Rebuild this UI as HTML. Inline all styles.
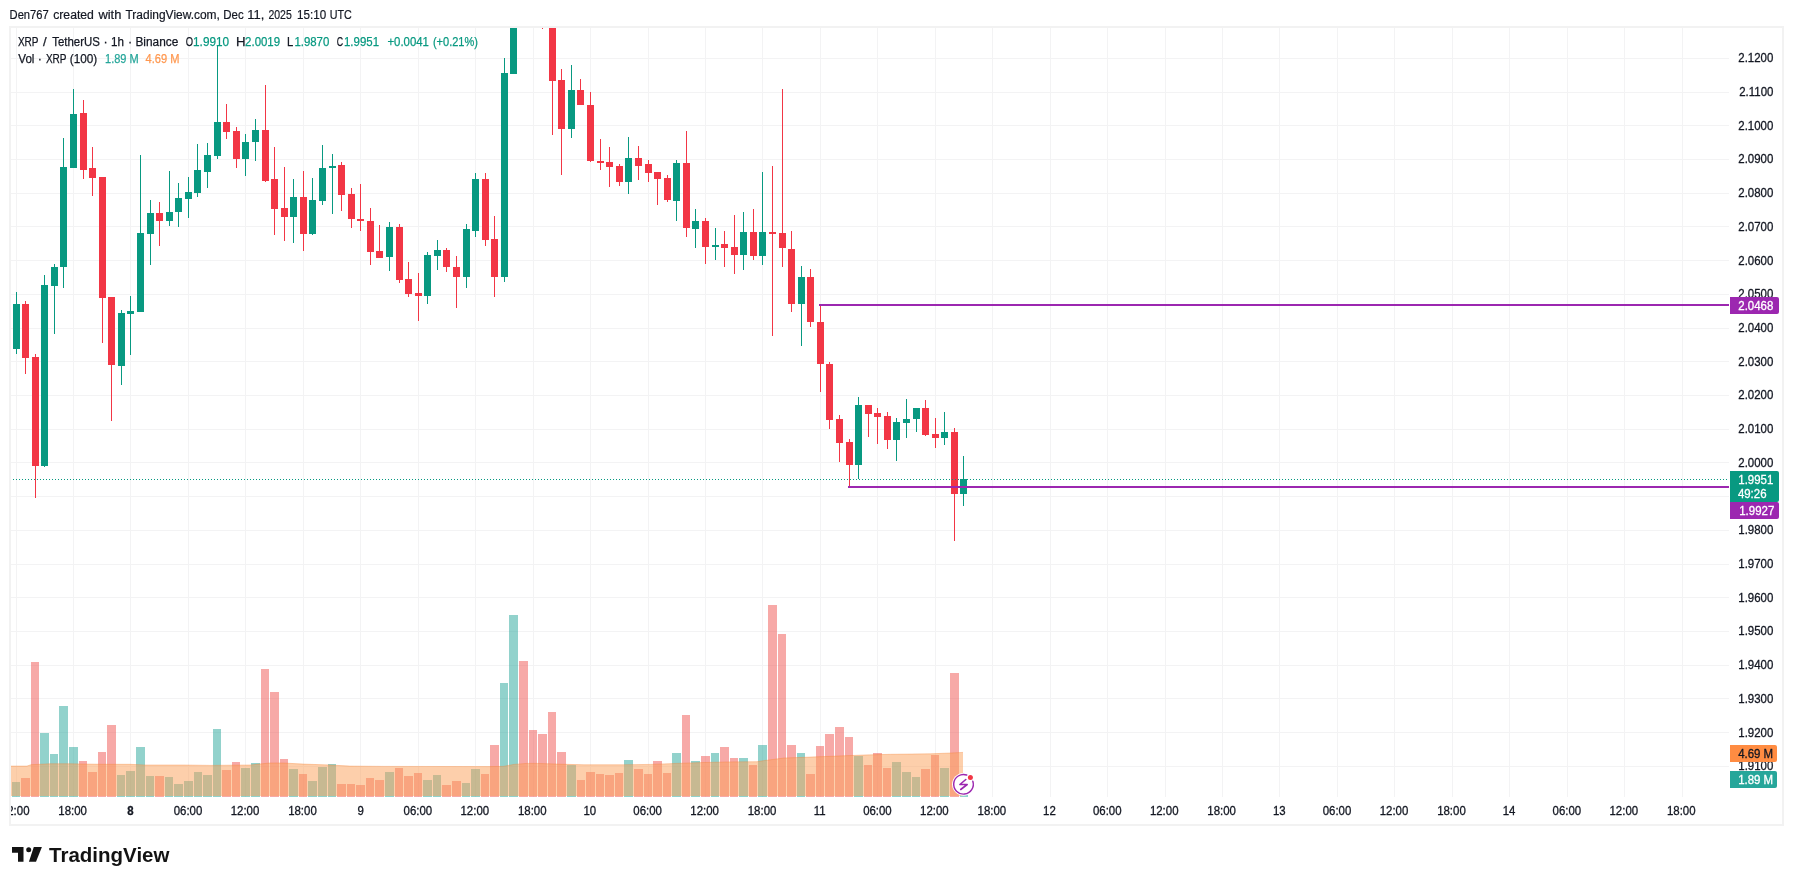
<!DOCTYPE html>
<html><head><meta charset="utf-8"><title>XRP / TetherUS chart</title>
<style>html,body{margin:0;padding:0;background:#fff;width:1793px;height:885px;overflow:hidden}svg{display:block;will-change:transform}</style>
</head><body>
<svg width="1793" height="885" viewBox="0 0 1793 885" shape-rendering="crispEdges"><defs><clipPath id="pane"><rect x="11" y="28" width="1718" height="769"/></clipPath><clipPath id="taxis"><rect x="11" y="797" width="1771" height="27"/></clipPath></defs><rect x="9" y="26" width="1775" height="800" fill="#f2f2f2"/><rect x="11" y="28" width="1771" height="796" fill="#ffffff"/><g fill="#f3f3f4"><rect x="16" y="28" width="1" height="769"/><rect x="73" y="28" width="1" height="769"/><rect x="130" y="28" width="1" height="769"/><rect x="188" y="28" width="1" height="769"/><rect x="245" y="28" width="1" height="769"/><rect x="303" y="28" width="1" height="769"/><rect x="360" y="28" width="1" height="769"/><rect x="418" y="28" width="1" height="769"/><rect x="475" y="28" width="1" height="769"/><rect x="533" y="28" width="1" height="769"/><rect x="590" y="28" width="1" height="769"/><rect x="648" y="28" width="1" height="769"/><rect x="705" y="28" width="1" height="769"/><rect x="762" y="28" width="1" height="769"/><rect x="820" y="28" width="1" height="769"/><rect x="877" y="28" width="1" height="769"/><rect x="935" y="28" width="1" height="769"/><rect x="992" y="28" width="1" height="769"/><rect x="1050" y="28" width="1" height="769"/><rect x="1107" y="28" width="1" height="769"/><rect x="1165" y="28" width="1" height="769"/><rect x="1222" y="28" width="1" height="769"/><rect x="1279" y="28" width="1" height="769"/><rect x="1337" y="28" width="1" height="769"/><rect x="1394" y="28" width="1" height="769"/><rect x="1452" y="28" width="1" height="769"/><rect x="1509" y="28" width="1" height="769"/><rect x="1567" y="28" width="1" height="769"/><rect x="1624" y="28" width="1" height="769"/><rect x="1682" y="28" width="1" height="769"/><rect x="11" y="58" width="1718" height="1"/><rect x="11" y="92" width="1718" height="1"/><rect x="11" y="125" width="1718" height="1"/><rect x="11" y="159" width="1718" height="1"/><rect x="11" y="193" width="1718" height="1"/><rect x="11" y="226" width="1718" height="1"/><rect x="11" y="260" width="1718" height="1"/><rect x="11" y="294" width="1718" height="1"/><rect x="11" y="328" width="1718" height="1"/><rect x="11" y="361" width="1718" height="1"/><rect x="11" y="395" width="1718" height="1"/><rect x="11" y="429" width="1718" height="1"/><rect x="11" y="462" width="1718" height="1"/><rect x="11" y="496" width="1718" height="1"/><rect x="11" y="530" width="1718" height="1"/><rect x="11" y="564" width="1718" height="1"/><rect x="11" y="597" width="1718" height="1"/><rect x="11" y="631" width="1718" height="1"/><rect x="11" y="665" width="1718" height="1"/><rect x="11" y="698" width="1718" height="1"/><rect x="11" y="732" width="1718" height="1"/><rect x="11" y="766" width="1718" height="1"/></g><g clip-path="url(#pane)"><rect x="12" y="782" width="8" height="15" fill="rgba(38,166,154,0.5)"/><rect x="21" y="778" width="9" height="19" fill="rgba(239,83,80,0.5)"/><rect x="31" y="662" width="8" height="135" fill="rgba(239,83,80,0.5)"/><rect x="40" y="733" width="9" height="64" fill="rgba(38,166,154,0.5)"/><rect x="50" y="754" width="8" height="43" fill="rgba(38,166,154,0.5)"/><rect x="59" y="706" width="9" height="91" fill="rgba(38,166,154,0.5)"/><rect x="69" y="747" width="9" height="50" fill="rgba(38,166,154,0.5)"/><rect x="79" y="761" width="8" height="36" fill="rgba(239,83,80,0.5)"/><rect x="88" y="772" width="9" height="25" fill="rgba(239,83,80,0.5)"/><rect x="98" y="752" width="8" height="45" fill="rgba(239,83,80,0.5)"/><rect x="107" y="725" width="9" height="72" fill="rgba(239,83,80,0.5)"/><rect x="117" y="775" width="8" height="22" fill="rgba(38,166,154,0.5)"/><rect x="126" y="771" width="9" height="26" fill="rgba(38,166,154,0.5)"/><rect x="136" y="747" width="9" height="50" fill="rgba(38,166,154,0.5)"/><rect x="146" y="776" width="8" height="21" fill="rgba(38,166,154,0.5)"/><rect x="155" y="776" width="9" height="21" fill="rgba(239,83,80,0.5)"/><rect x="165" y="777" width="8" height="20" fill="rgba(38,166,154,0.5)"/><rect x="174" y="784" width="9" height="13" fill="rgba(38,166,154,0.5)"/><rect x="184" y="781" width="9" height="16" fill="rgba(38,166,154,0.5)"/><rect x="194" y="772" width="8" height="25" fill="rgba(38,166,154,0.5)"/><rect x="203" y="775" width="9" height="22" fill="rgba(38,166,154,0.5)"/><rect x="213" y="729" width="8" height="68" fill="rgba(38,166,154,0.5)"/><rect x="222" y="770" width="9" height="27" fill="rgba(239,83,80,0.5)"/><rect x="232" y="762" width="8" height="35" fill="rgba(239,83,80,0.5)"/><rect x="241" y="768" width="9" height="29" fill="rgba(38,166,154,0.5)"/><rect x="251" y="763" width="9" height="34" fill="rgba(38,166,154,0.5)"/><rect x="261" y="669" width="8" height="128" fill="rgba(239,83,80,0.5)"/><rect x="270" y="692" width="9" height="105" fill="rgba(239,83,80,0.5)"/><rect x="280" y="759" width="8" height="38" fill="rgba(239,83,80,0.5)"/><rect x="289" y="769" width="9" height="28" fill="rgba(38,166,154,0.5)"/><rect x="299" y="774" width="8" height="23" fill="rgba(239,83,80,0.5)"/><rect x="308" y="781" width="9" height="16" fill="rgba(38,166,154,0.5)"/><rect x="318" y="767" width="9" height="30" fill="rgba(38,166,154,0.5)"/><rect x="328" y="764" width="8" height="33" fill="rgba(38,166,154,0.5)"/><rect x="337" y="784" width="9" height="13" fill="rgba(239,83,80,0.5)"/><rect x="347" y="784" width="8" height="13" fill="rgba(239,83,80,0.5)"/><rect x="356" y="785" width="9" height="12" fill="rgba(239,83,80,0.5)"/><rect x="366" y="778" width="8" height="19" fill="rgba(239,83,80,0.5)"/><rect x="375" y="780" width="9" height="17" fill="rgba(239,83,80,0.5)"/><rect x="385" y="772" width="9" height="25" fill="rgba(38,166,154,0.5)"/><rect x="395" y="768" width="8" height="29" fill="rgba(239,83,80,0.5)"/><rect x="404" y="776" width="9" height="21" fill="rgba(239,83,80,0.5)"/><rect x="414" y="773" width="8" height="24" fill="rgba(239,83,80,0.5)"/><rect x="423" y="780" width="9" height="17" fill="rgba(38,166,154,0.5)"/><rect x="433" y="775" width="8" height="22" fill="rgba(38,166,154,0.5)"/><rect x="442" y="785" width="9" height="12" fill="rgba(239,83,80,0.5)"/><rect x="452" y="781" width="9" height="16" fill="rgba(239,83,80,0.5)"/><rect x="462" y="783" width="8" height="14" fill="rgba(38,166,154,0.5)"/><rect x="471" y="769" width="9" height="28" fill="rgba(38,166,154,0.5)"/><rect x="481" y="774" width="8" height="23" fill="rgba(239,83,80,0.5)"/><rect x="490" y="745" width="9" height="52" fill="rgba(239,83,80,0.5)"/><rect x="500" y="683" width="8" height="114" fill="rgba(38,166,154,0.5)"/><rect x="509" y="615" width="9" height="182" fill="rgba(38,166,154,0.5)"/><rect x="519" y="661" width="9" height="136" fill="rgba(239,83,80,0.5)"/><rect x="529" y="730" width="8" height="67" fill="rgba(239,83,80,0.5)"/><rect x="538" y="734" width="9" height="63" fill="rgba(239,83,80,0.5)"/><rect x="548" y="712" width="8" height="85" fill="rgba(239,83,80,0.5)"/><rect x="557" y="752" width="9" height="45" fill="rgba(239,83,80,0.5)"/><rect x="567" y="765" width="9" height="32" fill="rgba(38,166,154,0.5)"/><rect x="577" y="780" width="8" height="17" fill="rgba(239,83,80,0.5)"/><rect x="586" y="772" width="9" height="25" fill="rgba(239,83,80,0.5)"/><rect x="596" y="774" width="8" height="23" fill="rgba(239,83,80,0.5)"/><rect x="605" y="775" width="9" height="22" fill="rgba(239,83,80,0.5)"/><rect x="615" y="773" width="8" height="24" fill="rgba(239,83,80,0.5)"/><rect x="624" y="760" width="9" height="37" fill="rgba(38,166,154,0.5)"/><rect x="634" y="769" width="9" height="28" fill="rgba(239,83,80,0.5)"/><rect x="644" y="774" width="8" height="23" fill="rgba(239,83,80,0.5)"/><rect x="653" y="761" width="9" height="36" fill="rgba(239,83,80,0.5)"/><rect x="663" y="773" width="8" height="24" fill="rgba(239,83,80,0.5)"/><rect x="672" y="753" width="9" height="44" fill="rgba(38,166,154,0.5)"/><rect x="682" y="715" width="8" height="82" fill="rgba(239,83,80,0.5)"/><rect x="691" y="761" width="9" height="36" fill="rgba(38,166,154,0.5)"/><rect x="701" y="756" width="9" height="41" fill="rgba(239,83,80,0.5)"/><rect x="711" y="753" width="8" height="44" fill="rgba(38,166,154,0.5)"/><rect x="720" y="747" width="9" height="50" fill="rgba(239,83,80,0.5)"/><rect x="730" y="758" width="8" height="39" fill="rgba(239,83,80,0.5)"/><rect x="739" y="758" width="9" height="39" fill="rgba(38,166,154,0.5)"/><rect x="749" y="765" width="8" height="32" fill="rgba(239,83,80,0.5)"/><rect x="758" y="745" width="9" height="52" fill="rgba(38,166,154,0.5)"/><rect x="768" y="605" width="9" height="192" fill="rgba(239,83,80,0.5)"/><rect x="778" y="634" width="8" height="163" fill="rgba(239,83,80,0.5)"/><rect x="787" y="745" width="9" height="52" fill="rgba(239,83,80,0.5)"/><rect x="797" y="753" width="8" height="44" fill="rgba(38,166,154,0.5)"/><rect x="806" y="774" width="9" height="23" fill="rgba(239,83,80,0.5)"/><rect x="816" y="746" width="8" height="51" fill="rgba(239,83,80,0.5)"/><rect x="825" y="734" width="9" height="63" fill="rgba(239,83,80,0.5)"/><rect x="835" y="727" width="9" height="70" fill="rgba(239,83,80,0.5)"/><rect x="845" y="737" width="8" height="60" fill="rgba(239,83,80,0.5)"/><rect x="854" y="756" width="9" height="41" fill="rgba(38,166,154,0.5)"/><rect x="864" y="765" width="8" height="32" fill="rgba(239,83,80,0.5)"/><rect x="873" y="753" width="9" height="44" fill="rgba(239,83,80,0.5)"/><rect x="883" y="768" width="8" height="29" fill="rgba(239,83,80,0.5)"/><rect x="892" y="762" width="9" height="35" fill="rgba(38,166,154,0.5)"/><rect x="902" y="772" width="9" height="25" fill="rgba(38,166,154,0.5)"/><rect x="912" y="777" width="8" height="20" fill="rgba(38,166,154,0.5)"/><rect x="921" y="769" width="9" height="28" fill="rgba(239,83,80,0.5)"/><rect x="931" y="755" width="8" height="42" fill="rgba(239,83,80,0.5)"/><rect x="940" y="768" width="9" height="29" fill="rgba(38,166,154,0.5)"/><rect x="950" y="673" width="9" height="124" fill="rgba(239,83,80,0.5)"/><rect x="960" y="779" width="8" height="18" fill="rgba(38,166,154,0.5)"/></g><g clip-path="url(#pane)" shape-rendering="auto"><polygon points="11,796 11,766.1 27,766.1 31,764.7 50,763.8 70,763.8 80,764 104,764.3 130,764.3 144,765 184,765 211,765.4 250,765 270,763 283,763 303.5,764.1 330,765 350,766.1 384,766.4 490,766.6 503,766.4 514,764.4 527,763.4 537,763.4 557,764.1 584,764.8 624,764.8 650.6,764.4 677,763.4 704,762.5 730,761.9 757,761.7 763.5,760.7 783.5,758.1 810,757.1 837,756.1 864,755 890.6,754.3 930.8,753.8 951,753 963,752.4 963,796" fill="rgba(251,159,87,0.5)"/><polyline points="11,766.1 27,766.1 31,764.7 50,763.8 70,763.8 80,764 104,764.3 130,764.3 144,765 184,765 211,765.4 250,765 270,763 283,763 303.5,764.1 330,765 350,766.1 384,766.4 490,766.6 503,766.4 514,764.4 527,763.4 537,763.4 557,764.1 584,764.8 624,764.8 650.6,764.4 677,763.4 704,762.5 730,761.9 757,761.7 763.5,760.7 783.5,758.1 810,757.1 837,756.1 864,755 890.6,754.3 930.8,753.8 951,753 963,752.4" fill="none" stroke="rgba(245,130,50,0.35)" stroke-width="1"/></g><g clip-path="url(#pane)"><rect x="16" y="292" width="1" height="62" fill="#089981"/><rect x="13" y="304" width="7" height="45" fill="#089981"/><rect x="25" y="301" width="1" height="73" fill="#F23645"/><rect x="22" y="304" width="7" height="54" fill="#F23645"/><rect x="35" y="354" width="1" height="144" fill="#F23645"/><rect x="32" y="357" width="7" height="109" fill="#F23645"/><rect x="44" y="275" width="1" height="192" fill="#089981"/><rect x="41" y="285" width="7" height="181" fill="#089981"/><rect x="54" y="264" width="1" height="70" fill="#089981"/><rect x="51" y="267" width="7" height="19" fill="#089981"/><rect x="63" y="138" width="1" height="150" fill="#089981"/><rect x="60" y="167" width="7" height="100" fill="#089981"/><rect x="73" y="89" width="1" height="79" fill="#089981"/><rect x="70" y="114" width="7" height="54" fill="#089981"/><rect x="83" y="100" width="1" height="79" fill="#F23645"/><rect x="80" y="113" width="7" height="57" fill="#F23645"/><rect x="92" y="147" width="1" height="49" fill="#F23645"/><rect x="89" y="168" width="7" height="10" fill="#F23645"/><rect x="102" y="177" width="1" height="166" fill="#F23645"/><rect x="99" y="177" width="7" height="121" fill="#F23645"/><rect x="111" y="297" width="1" height="124" fill="#F23645"/><rect x="108" y="297" width="7" height="68" fill="#F23645"/><rect x="121" y="310" width="1" height="75" fill="#089981"/><rect x="118" y="313" width="7" height="53" fill="#089981"/><rect x="130" y="296" width="1" height="59" fill="#089981"/><rect x="127" y="311" width="7" height="3" fill="#089981"/><rect x="140" y="155" width="1" height="157" fill="#089981"/><rect x="137" y="233" width="7" height="79" fill="#089981"/><rect x="150" y="200" width="1" height="65" fill="#089981"/><rect x="147" y="213" width="7" height="21" fill="#089981"/><rect x="159" y="202" width="1" height="44" fill="#F23645"/><rect x="156" y="213" width="7" height="8" fill="#F23645"/><rect x="169" y="171" width="1" height="55" fill="#089981"/><rect x="166" y="212" width="7" height="9" fill="#089981"/><rect x="178" y="183" width="1" height="44" fill="#089981"/><rect x="175" y="198" width="7" height="14" fill="#089981"/><rect x="188" y="177" width="1" height="41" fill="#089981"/><rect x="185" y="192" width="7" height="7" fill="#089981"/><rect x="197" y="144" width="1" height="53" fill="#089981"/><rect x="194" y="170" width="7" height="23" fill="#089981"/><rect x="207" y="143" width="1" height="45" fill="#089981"/><rect x="204" y="155" width="7" height="17" fill="#089981"/><rect x="217" y="45" width="1" height="114" fill="#089981"/><rect x="214" y="122" width="7" height="34" fill="#089981"/><rect x="226" y="104" width="1" height="35" fill="#F23645"/><rect x="223" y="122" width="7" height="10" fill="#F23645"/><rect x="236" y="127" width="1" height="41" fill="#F23645"/><rect x="233" y="131" width="7" height="28" fill="#F23645"/><rect x="245" y="134" width="1" height="42" fill="#089981"/><rect x="242" y="142" width="7" height="17" fill="#089981"/><rect x="255" y="119" width="1" height="42" fill="#089981"/><rect x="252" y="130" width="7" height="12" fill="#089981"/><rect x="265" y="85" width="1" height="97" fill="#F23645"/><rect x="262" y="130" width="7" height="51" fill="#F23645"/><rect x="274" y="147" width="1" height="88" fill="#F23645"/><rect x="271" y="179" width="7" height="30" fill="#F23645"/><rect x="284" y="167" width="1" height="74" fill="#F23645"/><rect x="281" y="208" width="7" height="9" fill="#F23645"/><rect x="293" y="179" width="1" height="64" fill="#089981"/><rect x="290" y="197" width="7" height="20" fill="#089981"/><rect x="303" y="171" width="1" height="80" fill="#F23645"/><rect x="300" y="197" width="7" height="37" fill="#F23645"/><rect x="312" y="178" width="1" height="57" fill="#089981"/><rect x="309" y="200" width="7" height="34" fill="#089981"/><rect x="322" y="145" width="1" height="60" fill="#089981"/><rect x="319" y="168" width="7" height="33" fill="#089981"/><rect x="332" y="154" width="1" height="60" fill="#089981"/><rect x="329" y="166" width="7" height="2" fill="#089981"/><rect x="341" y="162" width="1" height="49" fill="#F23645"/><rect x="338" y="165" width="7" height="30" fill="#F23645"/><rect x="351" y="188" width="1" height="40" fill="#F23645"/><rect x="348" y="194" width="7" height="25" fill="#F23645"/><rect x="360" y="184" width="1" height="47" fill="#F23645"/><rect x="357" y="219" width="7" height="2" fill="#F23645"/><rect x="370" y="208" width="1" height="57" fill="#F23645"/><rect x="367" y="221" width="7" height="31" fill="#F23645"/><rect x="379" y="225" width="1" height="33" fill="#F23645"/><rect x="376" y="251" width="7" height="7" fill="#F23645"/><rect x="389" y="222" width="1" height="49" fill="#089981"/><rect x="386" y="227" width="7" height="30" fill="#089981"/><rect x="399" y="224" width="1" height="59" fill="#F23645"/><rect x="396" y="227" width="7" height="53" fill="#F23645"/><rect x="408" y="262" width="1" height="35" fill="#F23645"/><rect x="405" y="279" width="7" height="15" fill="#F23645"/><rect x="418" y="273" width="1" height="48" fill="#F23645"/><rect x="415" y="293" width="7" height="3" fill="#F23645"/><rect x="427" y="252" width="1" height="52" fill="#089981"/><rect x="424" y="255" width="7" height="41" fill="#089981"/><rect x="437" y="240" width="1" height="30" fill="#089981"/><rect x="434" y="250" width="7" height="6" fill="#089981"/><rect x="446" y="248" width="1" height="24" fill="#F23645"/><rect x="443" y="250" width="7" height="17" fill="#F23645"/><rect x="456" y="256" width="1" height="52" fill="#F23645"/><rect x="453" y="267" width="7" height="10" fill="#F23645"/><rect x="466" y="224" width="1" height="64" fill="#089981"/><rect x="463" y="229" width="7" height="48" fill="#089981"/><rect x="475" y="173" width="1" height="64" fill="#089981"/><rect x="472" y="179" width="7" height="52" fill="#089981"/><rect x="485" y="173" width="1" height="73" fill="#F23645"/><rect x="482" y="179" width="7" height="61" fill="#F23645"/><rect x="494" y="216" width="1" height="81" fill="#F23645"/><rect x="491" y="239" width="7" height="38" fill="#F23645"/><rect x="504" y="58" width="1" height="224" fill="#089981"/><rect x="501" y="73" width="7" height="204" fill="#089981"/><rect x="513" y="-10" width="1" height="84" fill="#089981"/><rect x="510" y="0" width="7" height="74" fill="#089981"/><rect x="523" y="-70" width="1" height="50" fill="#F23645"/><rect x="520" y="-60" width="7" height="30" fill="#F23645"/><rect x="533" y="-40" width="1" height="40" fill="#F23645"/><rect x="530" y="-30" width="7" height="25" fill="#F23645"/><rect x="542" y="-10" width="1" height="39" fill="#F23645"/><rect x="539" y="-5" width="7" height="5" fill="#F23645"/><rect x="552" y="-5" width="1" height="140" fill="#F23645"/><rect x="549" y="0" width="7" height="81" fill="#F23645"/><rect x="561" y="69" width="1" height="106" fill="#F23645"/><rect x="558" y="80" width="7" height="49" fill="#F23645"/><rect x="571" y="65" width="1" height="73" fill="#089981"/><rect x="568" y="90" width="7" height="39" fill="#089981"/><rect x="580" y="79" width="1" height="26" fill="#F23645"/><rect x="577" y="90" width="7" height="15" fill="#F23645"/><rect x="590" y="92" width="1" height="70" fill="#F23645"/><rect x="587" y="105" width="7" height="56" fill="#F23645"/><rect x="600" y="139" width="1" height="31" fill="#F23645"/><rect x="597" y="161" width="7" height="2" fill="#F23645"/><rect x="609" y="147" width="1" height="40" fill="#F23645"/><rect x="606" y="162" width="7" height="5" fill="#F23645"/><rect x="619" y="164" width="1" height="22" fill="#F23645"/><rect x="616" y="166" width="7" height="16" fill="#F23645"/><rect x="628" y="137" width="1" height="57" fill="#089981"/><rect x="625" y="158" width="7" height="24" fill="#089981"/><rect x="638" y="146" width="1" height="34" fill="#F23645"/><rect x="635" y="158" width="7" height="8" fill="#F23645"/><rect x="648" y="160" width="1" height="22" fill="#F23645"/><rect x="645" y="164" width="7" height="9" fill="#F23645"/><rect x="657" y="172" width="1" height="33" fill="#F23645"/><rect x="654" y="172" width="7" height="7" fill="#F23645"/><rect x="667" y="175" width="1" height="27" fill="#F23645"/><rect x="664" y="178" width="7" height="22" fill="#F23645"/><rect x="676" y="160" width="1" height="61" fill="#089981"/><rect x="673" y="163" width="7" height="38" fill="#089981"/><rect x="686" y="131" width="1" height="106" fill="#F23645"/><rect x="683" y="163" width="7" height="65" fill="#F23645"/><rect x="695" y="209" width="1" height="39" fill="#089981"/><rect x="692" y="221" width="7" height="8" fill="#089981"/><rect x="705" y="218" width="1" height="46" fill="#F23645"/><rect x="702" y="221" width="7" height="26" fill="#F23645"/><rect x="715" y="228" width="1" height="32" fill="#089981"/><rect x="712" y="245" width="7" height="2" fill="#089981"/><rect x="724" y="231" width="1" height="36" fill="#F23645"/><rect x="721" y="244" width="7" height="4" fill="#F23645"/><rect x="734" y="215" width="1" height="59" fill="#F23645"/><rect x="731" y="247" width="7" height="8" fill="#F23645"/><rect x="743" y="212" width="1" height="58" fill="#089981"/><rect x="740" y="232" width="7" height="23" fill="#089981"/><rect x="753" y="209" width="1" height="51" fill="#F23645"/><rect x="750" y="232" width="7" height="24" fill="#F23645"/><rect x="762" y="172" width="1" height="93" fill="#089981"/><rect x="759" y="232" width="7" height="24" fill="#089981"/><rect x="772" y="166" width="1" height="170" fill="#F23645"/><rect x="769" y="232" width="7" height="2" fill="#F23645"/><rect x="782" y="89" width="1" height="178" fill="#F23645"/><rect x="779" y="233" width="7" height="15" fill="#F23645"/><rect x="791" y="231" width="1" height="81" fill="#F23645"/><rect x="788" y="249" width="7" height="55" fill="#F23645"/><rect x="801" y="266" width="1" height="80" fill="#089981"/><rect x="798" y="277" width="7" height="27" fill="#089981"/><rect x="810" y="269" width="1" height="58" fill="#F23645"/><rect x="807" y="277" width="7" height="45" fill="#F23645"/><rect x="820" y="305" width="1" height="87" fill="#F23645"/><rect x="817" y="322" width="7" height="42" fill="#F23645"/><rect x="829" y="362" width="1" height="67" fill="#F23645"/><rect x="826" y="364" width="7" height="56" fill="#F23645"/><rect x="839" y="415" width="1" height="47" fill="#F23645"/><rect x="836" y="419" width="7" height="24" fill="#F23645"/><rect x="849" y="439" width="1" height="48" fill="#F23645"/><rect x="846" y="442" width="7" height="23" fill="#F23645"/><rect x="858" y="397" width="1" height="82" fill="#089981"/><rect x="855" y="405" width="7" height="60" fill="#089981"/><rect x="868" y="405" width="1" height="32" fill="#F23645"/><rect x="865" y="405" width="7" height="9" fill="#F23645"/><rect x="877" y="408" width="1" height="36" fill="#F23645"/><rect x="874" y="413" width="7" height="4" fill="#F23645"/><rect x="887" y="412" width="1" height="37" fill="#F23645"/><rect x="884" y="416" width="7" height="24" fill="#F23645"/><rect x="896" y="418" width="1" height="43" fill="#089981"/><rect x="893" y="422" width="7" height="18" fill="#089981"/><rect x="906" y="399" width="1" height="39" fill="#089981"/><rect x="903" y="419" width="7" height="4" fill="#089981"/><rect x="916" y="408" width="1" height="24" fill="#089981"/><rect x="913" y="408" width="7" height="11" fill="#089981"/><rect x="925" y="400" width="1" height="36" fill="#F23645"/><rect x="922" y="408" width="7" height="27" fill="#F23645"/><rect x="935" y="418" width="1" height="30" fill="#F23645"/><rect x="932" y="434" width="7" height="4" fill="#F23645"/><rect x="944" y="412" width="1" height="33" fill="#089981"/><rect x="941" y="432" width="7" height="6" fill="#089981"/><rect x="954" y="428" width="1" height="113" fill="#F23645"/><rect x="951" y="432" width="7" height="62" fill="#F23645"/><rect x="963" y="456" width="1" height="50" fill="#089981"/><rect x="960" y="479" width="7" height="15" fill="#089981"/></g><line x1="13" y1="479.5" x2="1729" y2="479.5" stroke="#089981" stroke-width="1" stroke-dasharray="1 2"/><rect x="819" y="304" width="910" height="2" fill="#9C27B0"/><rect x="848" y="486" width="881" height="2" fill="#9C27B0"/><g font-family="'Liberation Sans', Arial, sans-serif" shape-rendering="auto"><text x="1738.30" y="61.6" font-size="12" font-weight="normal" fill="#131722" textLength="35.02" lengthAdjust="spacingAndGlyphs" stroke="#131722" stroke-width="0.3">2.1200</text><text x="1739.25" y="95.6" font-size="12" font-weight="normal" fill="#131722" textLength="34.17" lengthAdjust="spacingAndGlyphs" stroke="#131722" stroke-width="0.3">2.1100</text><text x="1738.30" y="129.6" font-size="12" font-weight="normal" fill="#131722" textLength="35.02" lengthAdjust="spacingAndGlyphs" stroke="#131722" stroke-width="0.3">2.1000</text><text x="1738.30" y="162.6" font-size="12" font-weight="normal" fill="#131722" textLength="35.02" lengthAdjust="spacingAndGlyphs" stroke="#131722" stroke-width="0.3">2.0900</text><text x="1738.30" y="196.6" font-size="12" font-weight="normal" fill="#131722" textLength="35.02" lengthAdjust="spacingAndGlyphs" stroke="#131722" stroke-width="0.3">2.0800</text><text x="1738.30" y="230.6" font-size="12" font-weight="normal" fill="#131722" textLength="35.02" lengthAdjust="spacingAndGlyphs" stroke="#131722" stroke-width="0.3">2.0700</text><text x="1738.30" y="264.6" font-size="12" font-weight="normal" fill="#131722" textLength="35.02" lengthAdjust="spacingAndGlyphs" stroke="#131722" stroke-width="0.3">2.0600</text><text x="1738.30" y="297.6" font-size="12" font-weight="normal" fill="#131722" textLength="35.02" lengthAdjust="spacingAndGlyphs" stroke="#131722" stroke-width="0.3">2.0500</text><text x="1738.30" y="331.6" font-size="12" font-weight="normal" fill="#131722" textLength="35.02" lengthAdjust="spacingAndGlyphs" stroke="#131722" stroke-width="0.3">2.0400</text><text x="1738.30" y="365.6" font-size="12" font-weight="normal" fill="#131722" textLength="35.02" lengthAdjust="spacingAndGlyphs" stroke="#131722" stroke-width="0.3">2.0300</text><text x="1738.30" y="398.6" font-size="12" font-weight="normal" fill="#131722" textLength="35.02" lengthAdjust="spacingAndGlyphs" stroke="#131722" stroke-width="0.3">2.0200</text><text x="1738.30" y="432.6" font-size="12" font-weight="normal" fill="#131722" textLength="35.02" lengthAdjust="spacingAndGlyphs" stroke="#131722" stroke-width="0.3">2.0100</text><text x="1738.30" y="466.6" font-size="12" font-weight="normal" fill="#131722" textLength="35.02" lengthAdjust="spacingAndGlyphs" stroke="#131722" stroke-width="0.3">2.0000</text><text x="1738.30" y="500.6" font-size="12" font-weight="normal" fill="#131722" textLength="35.02" lengthAdjust="spacingAndGlyphs" stroke="#131722" stroke-width="0.3">1.9900</text><text x="1738.30" y="533.6" font-size="12" font-weight="normal" fill="#131722" textLength="35.02" lengthAdjust="spacingAndGlyphs" stroke="#131722" stroke-width="0.3">1.9800</text><text x="1738.30" y="567.6" font-size="12" font-weight="normal" fill="#131722" textLength="35.02" lengthAdjust="spacingAndGlyphs" stroke="#131722" stroke-width="0.3">1.9700</text><text x="1738.30" y="601.6" font-size="12" font-weight="normal" fill="#131722" textLength="35.02" lengthAdjust="spacingAndGlyphs" stroke="#131722" stroke-width="0.3">1.9600</text><text x="1738.30" y="634.6" font-size="12" font-weight="normal" fill="#131722" textLength="35.02" lengthAdjust="spacingAndGlyphs" stroke="#131722" stroke-width="0.3">1.9500</text><text x="1738.30" y="668.6" font-size="12" font-weight="normal" fill="#131722" textLength="35.02" lengthAdjust="spacingAndGlyphs" stroke="#131722" stroke-width="0.3">1.9400</text><text x="1738.30" y="702.6" font-size="12" font-weight="normal" fill="#131722" textLength="35.02" lengthAdjust="spacingAndGlyphs" stroke="#131722" stroke-width="0.3">1.9300</text><text x="1738.30" y="736.6" font-size="12" font-weight="normal" fill="#131722" textLength="35.02" lengthAdjust="spacingAndGlyphs" stroke="#131722" stroke-width="0.3">1.9200</text><text x="1738.30" y="769.6" font-size="12" font-weight="normal" fill="#131722" textLength="35.02" lengthAdjust="spacingAndGlyphs" stroke="#131722" stroke-width="0.3">1.9100</text></g><g shape-rendering="auto" font-family="'Liberation Sans', Arial, sans-serif"><path d="M1730,297 H1777 a2,2 0 0 1 2,2 V312 a2,2 0 0 1 -2,2 H1730 Z" fill="#9C27B0"/><text x="1738.30" y="309.8" font-size="12" font-weight="normal" fill="#fff" textLength="35.02" lengthAdjust="spacingAndGlyphs" stroke="#fff" stroke-width="0.3">2.0468</text><path d="M1730,471 H1777 a2,2 0 0 1 2,2 V500 a2,2 0 0 1 -2,2 H1730 Z" fill="#089981"/><text x="1738.30" y="483.8" font-size="12" font-weight="normal" fill="#fff" textLength="35.02" lengthAdjust="spacingAndGlyphs" stroke="#fff" stroke-width="0.3">1.9951</text><text x="1737.88" y="497.8" font-size="12" font-weight="normal" fill="#fff" textLength="28.65" lengthAdjust="spacingAndGlyphs" stroke="#fff" stroke-width="0.3">49:26</text><path d="M1730,502 H1777 a2,2 0 0 1 2,2 V517 a2,2 0 0 1 -2,2 H1730 Z" fill="#9C27B0"/><text x="1739.25" y="514.8" font-size="12" font-weight="normal" fill="#fff" textLength="35.02" lengthAdjust="spacingAndGlyphs" stroke="#fff" stroke-width="0.3">1.9927</text><path d="M1730,745 H1775 a2,2 0 0 1 2,2 V760 a2,2 0 0 1 -2,2 H1730 Z" fill="#FF8C42"/><text x="1738.15" y="757.8" font-size="12" font-weight="normal" fill="#131722" textLength="35.00" lengthAdjust="spacingAndGlyphs" stroke="#131722" stroke-width="0.3">4.69 M</text><path d="M1730,771 H1775 a2,2 0 0 1 2,2 V786 a2,2 0 0 1 -2,2 H1730 Z" fill="#26A69A"/><text x="1738.15" y="783.8" font-size="12" font-weight="normal" fill="#fff" textLength="35.00" lengthAdjust="spacingAndGlyphs" stroke="#fff" stroke-width="0.3">1.89 M</text></g><g clip-path="url(#taxis)" font-family="'Liberation Sans', Arial, sans-serif" shape-rendering="auto"><text x="0.92" y="814.6" font-size="12" font-weight="normal" fill="#131722" textLength="28.58" lengthAdjust="spacingAndGlyphs" stroke="#131722" stroke-width="0.3">12:00</text><text x="58.37" y="814.6" font-size="12" font-weight="normal" fill="#131722" textLength="28.58" lengthAdjust="spacingAndGlyphs" stroke="#131722" stroke-width="0.3">18:00</text><text x="127.24" y="814.6" font-size="12" font-weight="bold" fill="#131722" textLength="6.36" lengthAdjust="spacingAndGlyphs" stroke="#131722" stroke-width="0.3">8</text><text x="173.74" y="814.6" font-size="12" font-weight="normal" fill="#131722" textLength="28.58" lengthAdjust="spacingAndGlyphs" stroke="#131722" stroke-width="0.3">06:00</text><text x="230.72" y="814.6" font-size="12" font-weight="normal" fill="#131722" textLength="28.58" lengthAdjust="spacingAndGlyphs" stroke="#131722" stroke-width="0.3">12:00</text><text x="288.17" y="814.6" font-size="12" font-weight="normal" fill="#131722" textLength="28.58" lengthAdjust="spacingAndGlyphs" stroke="#131722" stroke-width="0.3">18:00</text><text x="357.51" y="814.6" font-size="12" font-weight="normal" fill="#131722" textLength="6.36" lengthAdjust="spacingAndGlyphs" stroke="#131722" stroke-width="0.3">9</text><text x="403.55" y="814.6" font-size="12" font-weight="normal" fill="#131722" textLength="28.58" lengthAdjust="spacingAndGlyphs" stroke="#131722" stroke-width="0.3">06:00</text><text x="460.52" y="814.6" font-size="12" font-weight="normal" fill="#131722" textLength="28.58" lengthAdjust="spacingAndGlyphs" stroke="#131722" stroke-width="0.3">12:00</text><text x="517.97" y="814.6" font-size="12" font-weight="normal" fill="#131722" textLength="28.58" lengthAdjust="spacingAndGlyphs" stroke="#131722" stroke-width="0.3">18:00</text><text x="583.51" y="814.6" font-size="12" font-weight="normal" fill="#131722" textLength="12.71" lengthAdjust="spacingAndGlyphs" stroke="#131722" stroke-width="0.3">10</text><text x="633.35" y="814.6" font-size="12" font-weight="normal" fill="#131722" textLength="28.58" lengthAdjust="spacingAndGlyphs" stroke="#131722" stroke-width="0.3">06:00</text><text x="690.32" y="814.6" font-size="12" font-weight="normal" fill="#131722" textLength="28.58" lengthAdjust="spacingAndGlyphs" stroke="#131722" stroke-width="0.3">12:00</text><text x="747.77" y="814.6" font-size="12" font-weight="normal" fill="#131722" textLength="28.58" lengthAdjust="spacingAndGlyphs" stroke="#131722" stroke-width="0.3">18:00</text><text x="813.78" y="814.6" font-size="12" font-weight="normal" fill="#131722" textLength="11.87" lengthAdjust="spacingAndGlyphs" stroke="#131722" stroke-width="0.3">11</text><text x="863.14" y="814.6" font-size="12" font-weight="normal" fill="#131722" textLength="28.58" lengthAdjust="spacingAndGlyphs" stroke="#131722" stroke-width="0.3">06:00</text><text x="920.12" y="814.6" font-size="12" font-weight="normal" fill="#131722" textLength="28.58" lengthAdjust="spacingAndGlyphs" stroke="#131722" stroke-width="0.3">12:00</text><text x="977.57" y="814.6" font-size="12" font-weight="normal" fill="#131722" textLength="28.58" lengthAdjust="spacingAndGlyphs" stroke="#131722" stroke-width="0.3">18:00</text><text x="1043.11" y="814.6" font-size="12" font-weight="normal" fill="#131722" textLength="12.71" lengthAdjust="spacingAndGlyphs" stroke="#131722" stroke-width="0.3">12</text><text x="1092.94" y="814.6" font-size="12" font-weight="normal" fill="#131722" textLength="28.58" lengthAdjust="spacingAndGlyphs" stroke="#131722" stroke-width="0.3">06:00</text><text x="1149.92" y="814.6" font-size="12" font-weight="normal" fill="#131722" textLength="28.58" lengthAdjust="spacingAndGlyphs" stroke="#131722" stroke-width="0.3">12:00</text><text x="1207.37" y="814.6" font-size="12" font-weight="normal" fill="#131722" textLength="28.58" lengthAdjust="spacingAndGlyphs" stroke="#131722" stroke-width="0.3">18:00</text><text x="1272.91" y="814.6" font-size="12" font-weight="normal" fill="#131722" textLength="12.71" lengthAdjust="spacingAndGlyphs" stroke="#131722" stroke-width="0.3">13</text><text x="1322.74" y="814.6" font-size="12" font-weight="normal" fill="#131722" textLength="28.58" lengthAdjust="spacingAndGlyphs" stroke="#131722" stroke-width="0.3">06:00</text><text x="1379.72" y="814.6" font-size="12" font-weight="normal" fill="#131722" textLength="28.58" lengthAdjust="spacingAndGlyphs" stroke="#131722" stroke-width="0.3">12:00</text><text x="1437.17" y="814.6" font-size="12" font-weight="normal" fill="#131722" textLength="28.58" lengthAdjust="spacingAndGlyphs" stroke="#131722" stroke-width="0.3">18:00</text><text x="1502.71" y="814.6" font-size="12" font-weight="normal" fill="#131722" textLength="12.71" lengthAdjust="spacingAndGlyphs" stroke="#131722" stroke-width="0.3">14</text><text x="1552.54" y="814.6" font-size="12" font-weight="normal" fill="#131722" textLength="28.58" lengthAdjust="spacingAndGlyphs" stroke="#131722" stroke-width="0.3">06:00</text><text x="1609.52" y="814.6" font-size="12" font-weight="normal" fill="#131722" textLength="28.58" lengthAdjust="spacingAndGlyphs" stroke="#131722" stroke-width="0.3">12:00</text><text x="1666.97" y="814.6" font-size="12" font-weight="normal" fill="#131722" textLength="28.58" lengthAdjust="spacingAndGlyphs" stroke="#131722" stroke-width="0.3">18:00</text></g><g font-family="'Liberation Sans', Arial, sans-serif" shape-rendering="auto"><text x="17.90" y="45.8" font-size="12.5" font-weight="normal" fill="#131722" textLength="20.67" lengthAdjust="spacingAndGlyphs" stroke="#131722" stroke-width="0.25">XRP</text><text x="42.90" y="45.8" font-size="12.5" font-weight="normal" fill="#131722" textLength="3.66" lengthAdjust="spacingAndGlyphs" stroke="#131722" stroke-width="0.25">/</text><text x="52.20" y="45.8" font-size="12.5" font-weight="normal" fill="#131722" textLength="47.70" lengthAdjust="spacingAndGlyphs" stroke="#131722" stroke-width="0.25">TetherUS</text><text x="103.50" y="45.8" font-size="12.5" font-weight="normal" fill="#131722" stroke="#131722" stroke-width="0.25">·</text><text x="111.07" y="45.8" font-size="12.5" font-weight="normal" fill="#131722" textLength="12.94" lengthAdjust="spacingAndGlyphs" stroke="#131722" stroke-width="0.25">1h</text><text x="128.10" y="45.8" font-size="12.5" font-weight="normal" fill="#131722" stroke="#131722" stroke-width="0.25">·</text><text x="135.45" y="45.8" font-size="12.5" font-weight="normal" fill="#131722" textLength="42.83" lengthAdjust="spacingAndGlyphs" stroke="#131722" stroke-width="0.25">Binance</text><text x="185.70" y="45.8" font-size="12.5" font-weight="normal" fill="#131722" textLength="7.30" lengthAdjust="spacingAndGlyphs" stroke="#131722" stroke-width="0.25">O</text><text x="193.06" y="45.8" font-size="12.5" font-weight="normal" fill="#089981" textLength="36.06" lengthAdjust="spacingAndGlyphs" stroke="#089981" stroke-width="0.25">1.9910</text><text x="235.94" y="45.8" font-size="12.5" font-weight="normal" fill="#131722" textLength="9.55" lengthAdjust="spacingAndGlyphs" stroke="#131722" stroke-width="0.25">H</text><text x="245.10" y="45.8" font-size="12.5" font-weight="normal" fill="#089981" textLength="35.01" lengthAdjust="spacingAndGlyphs" stroke="#089981" stroke-width="0.25">2.0019</text><text x="287.00" y="45.8" font-size="12.5" font-weight="normal" fill="#131722" textLength="6.26" lengthAdjust="spacingAndGlyphs" stroke="#131722" stroke-width="0.25">L</text><text x="294.39" y="45.8" font-size="12.5" font-weight="normal" fill="#089981" textLength="34.93" lengthAdjust="spacingAndGlyphs" stroke="#089981" stroke-width="0.25">1.9870</text><text x="336.80" y="45.8" font-size="12.5" font-weight="normal" fill="#131722" textLength="6.32" lengthAdjust="spacingAndGlyphs" stroke="#131722" stroke-width="0.25">C</text><text x="343.98" y="45.8" font-size="12.5" font-weight="normal" fill="#089981" textLength="35.03" lengthAdjust="spacingAndGlyphs" stroke="#089981" stroke-width="0.25">1.9951</text><text x="387.40" y="45.8" font-size="12.5" font-weight="normal" fill="#089981" textLength="41.50" lengthAdjust="spacingAndGlyphs" stroke="#089981" stroke-width="0.25">+0.0041</text><text x="432.92" y="45.8" font-size="12.5" font-weight="normal" fill="#089981" textLength="45.05" lengthAdjust="spacingAndGlyphs" stroke="#089981" stroke-width="0.25">(+0.21%)</text><text x="18.30" y="62.6" font-size="12.5" font-weight="normal" fill="#131722" textLength="16.16" lengthAdjust="spacingAndGlyphs" stroke="#131722" stroke-width="0.25">Vol</text><text x="37.80" y="62.6" font-size="12.5" font-weight="normal" fill="#131722" stroke="#131722" stroke-width="0.25">·</text><text x="45.90" y="62.6" font-size="12.5" font-weight="normal" fill="#131722" textLength="20.67" lengthAdjust="spacingAndGlyphs" stroke="#131722" stroke-width="0.25">XRP</text><text x="69.76" y="62.6" font-size="12.5" font-weight="normal" fill="#131722" textLength="27.52" lengthAdjust="spacingAndGlyphs" stroke="#131722" stroke-width="0.25">(100)</text><text x="105.02" y="62.6" font-size="12.5" font-weight="normal" fill="#26A69A" textLength="33.67" lengthAdjust="spacingAndGlyphs" stroke="#26A69A" stroke-width="0.25">1.89 M</text><text x="145.50" y="62.6" font-size="12.5" font-weight="normal" fill="#FF9850" textLength="33.89" lengthAdjust="spacingAndGlyphs" stroke="#FF9850" stroke-width="0.25">4.69 M</text></g><g font-family="'Liberation Sans', Arial, sans-serif" shape-rendering="auto"><text x="9.57" y="19" font-size="12" font-weight="normal" fill="#131722" textLength="39.18" lengthAdjust="spacingAndGlyphs" stroke="#131722" stroke-width="0.2">Den767</text><text x="53.20" y="19" font-size="12" font-weight="normal" fill="#131722" textLength="40.73" lengthAdjust="spacingAndGlyphs" stroke="#131722" stroke-width="0.2">created</text><text x="98.40" y="19" font-size="12" font-weight="normal" fill="#131722" textLength="22.97" lengthAdjust="spacingAndGlyphs" stroke="#131722" stroke-width="0.2">with</text><text x="125.50" y="19" font-size="12" font-weight="normal" fill="#131722" textLength="94.42" lengthAdjust="spacingAndGlyphs" stroke="#131722" stroke-width="0.2">TradingView.com,</text><text x="223.24" y="19" font-size="12" font-weight="normal" fill="#131722" textLength="20.38" lengthAdjust="spacingAndGlyphs" stroke="#131722" stroke-width="0.2">Dec</text><text x="247.22" y="19" font-size="12" font-weight="normal" fill="#131722" textLength="17.04" lengthAdjust="spacingAndGlyphs" stroke="#131722" stroke-width="0.2">11,</text><text x="268.40" y="19" font-size="12" font-weight="normal" fill="#131722" textLength="23.34" lengthAdjust="spacingAndGlyphs" stroke="#131722" stroke-width="0.2">2025</text><text x="297.03" y="19" font-size="12" font-weight="normal" fill="#131722" textLength="29.10" lengthAdjust="spacingAndGlyphs" stroke="#131722" stroke-width="0.2">15:10</text><text x="329.70" y="19" font-size="12" font-weight="normal" fill="#131722" textLength="22.10" lengthAdjust="spacingAndGlyphs" stroke="#131722" stroke-width="0.2">UTC</text></g><g shape-rendering="auto">
<circle cx="963.5" cy="784.3" r="11.4" fill="#fff"/>
<path d="M972.82,781.27 A9.8,9.8 0 1 1 966.69,775.03" fill="none" stroke="#9C27B0" stroke-width="1.45" stroke-linecap="round"/>
<path d="M965.8,779.5 L959.9,784.5 L967.2,784.5 L960.7,789.5" fill="none" stroke="#9C27B0" stroke-width="1.6" stroke-linejoin="round" stroke-linecap="round"/>
<circle cx="970.4" cy="777.4" r="2.5" fill="#F23645"/>
</g><g shape-rendering="auto" fill="#131313"><path d="M12,847 H23.5 V861.7 H18 V852.8 H12 Z"/><circle cx="28.7" cy="849.8" r="2.5"/><path d="M33.8,847 H41.9 L36,861.7 H28.9 Z"/><g font-family="'Liberation Sans', Arial, sans-serif"><text x="49.10" y="861.7" font-size="20" font-weight="bold" fill="#131313" textLength="120.34" lengthAdjust="spacingAndGlyphs">TradingView</text></g></g></svg>
</body></html>
